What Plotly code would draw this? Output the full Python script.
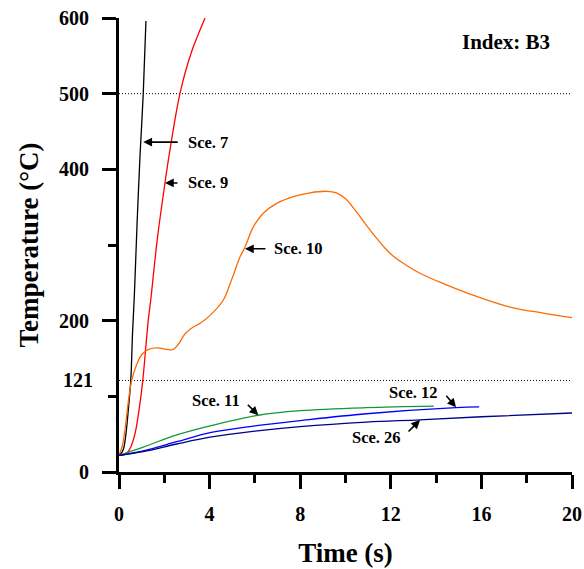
import plotly.graph_objects as go

# Temperature histories (time in s, temperature in °C) for each scenario
sce7_t = [0, 0.15, 0.22, 0.31, 0.42, 0.52, 0.60, 0.68, 0.80, 0.93, 1.07, 1.19]
sce7_T = [22, 27, 33, 51, 85, 121, 185, 235, 330, 419, 500, 596]

sce9_t = [0, 0.25, 0.40, 0.52, 0.71, 0.90, 1.05, 1.29, 1.40, 1.70, 2.03, 2.22, 2.69, 3.20, 3.80]
sce9_T = [22, 23, 27, 33, 51, 85, 121, 200, 227, 310, 382, 420, 500, 555, 600]

sce10_t = [0, 0.15, 0.26, 0.40, 0.56, 0.78, 1.0, 1.3, 1.7, 2.1, 2.4, 2.65, 2.9, 3.2, 3.6,
           4.02, 4.6, 4.97, 5.34, 5.56, 5.93, 6.37, 6.96, 7.7, 8.43, 9.17, 9.6, 10.0,
           10.4, 10.9, 11.4, 11.8, 12.2, 12.7, 13.4, 14.32, 15.79, 17.26, 18.73, 20.0]
sce10_T = [22, 35, 55, 90, 121, 142, 155, 162, 164, 162, 162, 170, 182, 190, 197,
           207, 227, 254, 284, 297, 324, 342, 355, 364, 369, 371, 369, 361,
           347, 327, 308, 294, 283, 273, 261, 249, 232, 218, 210, 204]

sce11_t = [0, 1.07, 2.55, 4.02, 6.15, 8.0, 10.9, 13.9]
sce11_T = [22, 33, 49, 61, 75, 81, 85, 87]

sce12_t = [0, 1.07, 2.55, 4.02, 6.0, 8.0, 10.93, 14.88, 15.9]
sce12_T = [22, 28, 40, 52, 61, 68, 77, 85, 86]

sce26_t = [0, 1.07, 2.55, 4.02, 6.0, 8.0, 10.93, 13.29, 16.0, 20.0]
sce26_T = [22, 27, 37, 46, 54, 60, 66, 69, 73, 78]

reference_levels = [500, 121]

x_major = [0, 4, 8, 12, 16, 20]
x_minor = [2, 6, 10, 14, 18]
y_major = [0, 200, 400, 500, 600]
y_minor = [100, 300]

FONT = "Liberation Serif, Times New Roman, serif"

series = [
    (sce7_t, sce7_T, "Sce. 7", "#000000", 0.9),
    (sce9_t, sce9_T, "Sce. 9", "#ff0000", 0.9),
    (sce10_t, sce10_T, "Sce. 10", "#ff6a00", 1.0),
    (sce11_t, sce11_T, "Sce. 11", "#119933", 1.0),
    (sce12_t, sce12_T, "Sce. 12", "#0000ff", 1.0),
    (sce26_t, sce26_T, "Sce. 26", "#000088", 1.0),
]

fig = go.Figure()

for lvl in reference_levels:
    fig.add_trace(go.Scatter(x=[0, 20], y=[lvl, lvl], mode="lines",
                             line=dict(color="black", width=1, dash="1px,2px"),
                             showlegend=False, hoverinfo="skip"))

for t, T, name, color, smooth in series:
    fig.add_trace(go.Scatter(x=t, y=T, mode="lines", name=name,
                             line=dict(color=color, width=1.3, shape="spline", smoothing=smooth),
                             showlegend=False))

# Arrow labels: (tip x, tip y, tail dx px, tail dy px, text, text x, text y, anchor)
labels = [
    (1.07, 436, 36, 0, "Sce. 7", 2.96, 436, "left"),
    (2.03, 382, 14, 0, "Sce. 9", 2.96, 382, "left"),
    (5.56, 295, 22, 0, "Sce. 10", 6.75, 295, "left"),
    (6.15, 75, -12, -12, "Sce. 11", 5.43, 94, "right"),
    (14.88, 85.5, -11, -13, "Sce. 12", 14.17, 105.7, "right"),
    (13.29, 68.7, -13, 13, "Sce. 26", 12.54, 45, "right"),
]

annotations = []
for tx, ty, dx, dy, text, lx, ly, anchor in labels:
    annotations.append(dict(x=tx, y=ty, xref="x", yref="y", ax=dx, ay=dy, text="",
                            showarrow=True, arrowhead=2, arrowsize=1.1, arrowwidth=1.6,
                            arrowcolor="black", standoff=0))
    annotations.append(dict(x=lx, y=ly, xref="x", yref="y", text=text, showarrow=False,
                            xanchor=anchor, yanchor="middle",
                            font=dict(family=FONT, size=16.5, color="black", weight="bold")))

annotations.append(dict(x=0, y=121, xref="paper", yref="y", text="121", showarrow=False,
                        xanchor="right", yanchor="middle", xshift=-24,
                        font=dict(family=FONT, size=20, color="black", weight="bold")))
annotations.append(dict(x=0.956, y=0.947, xref="paper", yref="paper", text="Index: B3",
                        showarrow=False, xanchor="right", yanchor="middle",
                        font=dict(family=FONT, size=21, color="black", weight="bold")))

fig.update_layout(
    width=584, height=569,
    margin=dict(l=119, r=12, t=18, b=97),
    plot_bgcolor="white", paper_bgcolor="white",
    annotations=annotations,
    xaxis=dict(
        range=[0, 20], tickvals=x_major, ticks="outside", ticklen=14, tickwidth=3,
        tickcolor="black", showline=True, linecolor="black", linewidth=3,
        showgrid=False, zeroline=False, ticklabelstandoff=8, automargin=False,
        minor=dict(tickvals=x_minor, ticks="outside", ticklen=8, tickwidth=3, tickcolor="black", showgrid=False),
        tickfont=dict(family=FONT, size=20, color="black", weight="bold"),
        title=dict(text="Time (s)", standoff=20,
                   font=dict(family=FONT, size=27, color="black", weight="bold")),
    ),
    yaxis=dict(
        range=[0, 600], tickvals=y_major, ticks="outside", ticklen=14, tickwidth=3,
        tickcolor="black", showline=True, linecolor="black", linewidth=3,
        showgrid=False, zeroline=False, ticklabelstandoff=9, automargin=False,
        minor=dict(tickvals=y_minor, ticks="outside", ticklen=8, tickwidth=3, tickcolor="black", showgrid=False),
        tickfont=dict(family=FONT, size=20, color="black", weight="bold"),
        title=dict(text="Temperature (°C)", standoff=13,
                   font=dict(family=FONT, size=27, color="black", weight="bold")),
    ),
)

fig.write_html("out.html")
